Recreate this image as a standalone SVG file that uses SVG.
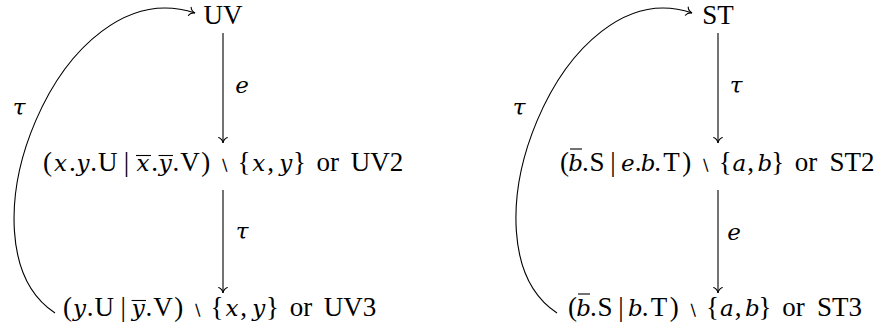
<svg xmlns="http://www.w3.org/2000/svg" width="883" height="335" viewBox="0 0 883 335">
<style>
.t{font-family:"Liberation Serif","DejaVu Serif",serif;font-size:27px;fill:#000;text-anchor:middle}
.i{font-family:"DejaVu Serif",serif;font-style:italic;font-size:23px}
.sm{font-family:"DejaVu Sans",sans-serif;font-size:16px;font-style:normal}
.ov{stroke:#000;stroke-width:1.1}
.e{fill:none;stroke:#000;stroke-width:1.1}
</style>
<defs>
<marker id="arr" markerUnits="userSpaceOnUse" markerWidth="14" markerHeight="14" viewBox="-8 -7 10 14" refX="0" refY="0" orient="auto">
<path d="M-5.5,-4.3 C-4.6,-1.9 -1.6,-0.3 0,0 C-1.6,0.3 -4.6,1.9 -5.5,4.3" fill="none" stroke="#000" stroke-width="1.1" stroke-linecap="round"/>
</marker>
</defs>
<g id="node-UV"><text class="t" x="223" y="24">UV</text></g>
<g id="node-UV2">
<text class="t" y="171"><tspan x="47.4">(</tspan><tspan class="i" x="60.6">x</tspan><tspan x="72.4">.</tspan><tspan class="i" x="83">y</tspan><tspan x="93.6">.</tspan><tspan x="107.7">U</tspan><tspan x="126.5">|</tspan><tspan class="i" x="142.9">x</tspan><tspan x="154.6">.</tspan><tspan class="i" x="165.2">y</tspan><tspan x="175.8">.</tspan><tspan x="190">V</tspan><tspan x="205.7">)</tspan><tspan class="sm" x="224.1">∖</tspan><tspan x="244">{</tspan><tspan class="i" x="258.8">x</tspan><tspan x="270.6">,</tspan><tspan class="i" x="285.8">y</tspan><tspan x="299.4">}</tspan><tspan x="327.8">or</tspan><tspan x="376.9">UV2</tspan></text>
<line class="ov" x1="136" y1="155.5" x2="151" y2="155.5"/>
<line class="ov" x1="158.5" y1="155.5" x2="173" y2="155.5"/>
</g>
<g id="node-UV3">
<text class="t" y="316"><tspan x="67.4">(</tspan><tspan class="i" x="79.5">y</tspan><tspan x="90.1">.</tspan><tspan x="104.3">U</tspan><tspan x="123.1">|</tspan><tspan class="i" x="138.3">y</tspan><tspan x="148.9">.</tspan><tspan x="163.1">V</tspan><tspan x="178.8">)</tspan><tspan class="sm" x="197.2">∖</tspan><tspan x="217.1">{</tspan><tspan class="i" x="231.9">x</tspan><tspan x="243.6">,</tspan><tspan class="i" x="258.8">y</tspan><tspan x="272.5">}</tspan><tspan x="300.9">or</tspan><tspan x="350">UV3</tspan></text>
<line class="ov" x1="131.6" y1="300.5" x2="146" y2="300.5"/>
</g>
<g id="node-ST"><text class="t" x="718" y="24">ST</text></g>
<g id="node-ST2">
<text class="t" y="171"><tspan x="564.4">(</tspan><tspan class="i" x="575.7">b</tspan><tspan x="585.4">.</tspan><tspan x="596.9">S</tspan><tspan x="613">|</tspan><tspan class="i" x="627.9">e</tspan><tspan x="638.2">.</tspan><tspan class="i" x="648">b</tspan><tspan x="657.7">.</tspan><tspan x="671.5">T</tspan><tspan x="686.8">)</tspan><tspan class="sm" x="705.2">∖</tspan><tspan x="725.2">{</tspan><tspan class="i" x="739.4">a</tspan><tspan x="750.5">,</tspan><tspan class="i" x="764.9">b</tspan><tspan x="777.7">}</tspan><tspan x="806.1">or</tspan><tspan x="852.1">ST2</tspan></text>
<line class="ov" x1="570" y1="149" x2="582" y2="149"/>
</g>
<g id="node-ST3">
<text class="t" y="316"><tspan x="572.4">(</tspan><tspan class="i" x="583.7">b</tspan><tspan x="593.4">.</tspan><tspan x="604.9">S</tspan><tspan x="621">|</tspan><tspan class="i" x="635.4">b</tspan><tspan x="645.2">.</tspan><tspan x="659">T</tspan><tspan x="674.3">)</tspan><tspan class="sm" x="692.7">∖</tspan><tspan x="712.6">{</tspan><tspan class="i" x="726.8">a</tspan><tspan x="738">,</tspan><tspan class="i" x="752.3">b</tspan><tspan x="765.1">}</tspan><tspan x="793.5">or</tspan><tspan x="839.6">ST3</tspan></text>
<line class="ov" x1="578" y1="294" x2="590" y2="294"/>
</g>
<g id="connectors">
<path class="e" d="M223,33 L223,143" marker-end="url(#arr)"/>
<path class="e" d="M223,190 L223,293" marker-end="url(#arr)"/>
<path class="e" d="M55,313 C-48,245 60,-32 195,13" marker-end="url(#arr)"/>
<path class="e" d="M718,33 L718,143" marker-end="url(#arr)"/>
<path class="e" d="M718,190 L718,293" marker-end="url(#arr)"/>
<path class="e" d="M557,313 C454,245 562,-32 692,13" marker-end="url(#arr)"/>
<text class="t i" x="242" y="93">e</text>
<text class="t i" x="242" y="239">τ</text>
<text class="t i" x="19" y="115">τ</text>
<text class="t i" x="736" y="93">τ</text>
<text class="t i" x="734" y="240">e</text>
<text class="t i" x="519" y="115">τ</text>
</g>
</svg>
